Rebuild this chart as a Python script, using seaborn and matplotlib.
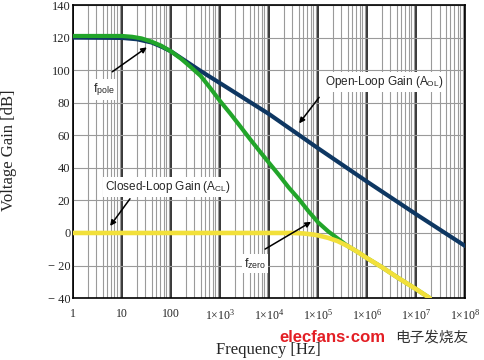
import numpy as np
import pandas as pd
import matplotlib
matplotlib.use('Agg')
import matplotlib.pyplot as plt
import seaborn as sns

# values (frequency in Hz, gain in dB)
ol_freq = [1, 10, 20, 40, 63, 100, 200, 400, 1e3, 1e4, 1e5, 1e6, 1e7, 1e8]
ol_gain = [120, 119.8, 119, 117, 114.5, 111.5, 105.5, 99.5, 92, 73, 52, 31.5, 11.5, -8]

grn_freq = [1, 10, 16, 25, 40, 63, 100, 160, 250, 400, 630, 1e3, 1.6e3, 2.5e3, 4e3,
            6.3e3, 1e4, 1.6e4, 2.5e4, 4e4, 6.3e4, 1e5, 1.6e5, 2.8e5, 4e5, 6.3e5,
            1e6, 2e6, 4e6, 1e7, 1.9e7]
grn_gain = [121, 121, 120.5, 119.5, 117.5, 115, 111.5, 107, 102, 96.5, 89, 81, 73.5, 66, 58,
            50.5, 43, 35.5, 28, 21, 13.5, 6.5, 1, -4.5, -8, -11.5,
            -15.5, -21, -27, -34.5, -40]

cl_freq = [1, 1e4, 3e4, 5e4, 8e4, 1e5, 1.6e5, 2.5e5, 4e5, 6.3e5, 1e6, 2e6, 4e6, 1e7, 1.9e7]
cl_gain = [0, 0, 0, -0.3, -1, -1.5, -3, -5, -8, -11.5, -15.5, -21, -27, -34.5, -40]

x_ticks = [1, 10, 100, 1e3, 1e4, 1e5, 1e6, 1e7, 1e8]
x_labels = ['1', '10', '100', r'$1{\times}10^{3}$', r'$1{\times}10^{4}$', r'$1{\times}10^{5}$',
            r'$1{\times}10^{6}$', r'$1{\times}10^{7}$', r'$1{\times}10^{8}$']
y_ticks = [140, 120, 100, 80, 60, 40, 20, 0, -20, -40]
y_labels = ['140', '120', '100', '80', '60', '40', '20', '0', '\u2212 20', '\u2212 40']

sns.set_style('white')
plt.rcParams['font.family'] = ['Liberation Serif', 'DejaVu Serif']
plt.rcParams['mathtext.fontset'] = 'custom'
plt.rcParams['mathtext.rm'] = 'Liberation Serif'
plt.rcParams['mathtext.it'] = 'Liberation Serif:italic'
plt.rcParams['mathtext.sf'] = 'Liberation Sans'

fig = plt.figure(figsize=(4.84, 3.6), dpi=100)
ax = fig.add_axes([0.151, 0.172, 0.81, 0.814])

navy = '#0e3762'
green = '#22a52a'
yellow = '#f2e03a'

sns.lineplot(x=ol_freq, y=ol_gain, ax=ax, color=navy, lw=3.0, zorder=3)
sns.lineplot(x=grn_freq, y=grn_gain, ax=ax, color=green, lw=3.0, zorder=4)
sns.lineplot(x=cl_freq, y=cl_gain, ax=ax, color=yellow, lw=3.3, zorder=5)

ax.set_xscale('log')
ax.set_xlim(1, 1e8)
ax.set_ylim(-40, 140)

# grid: black decades, grey minors, grey horizontal
ax.set_xticks(x_ticks)
ax.set_xticklabels(x_labels, fontsize=8.5)
ax.set_xticks([m * 10 ** d for d in range(8) for m in range(2, 10)], minor=True)
ax.set_yticks(y_ticks)
ax.set_yticklabels(y_labels, fontsize=9)
ax.tick_params(axis='both', which='both', length=0)
ax.tick_params(axis='x', pad=7)
ax.tick_params(axis='y', pad=2)
ax.xaxis.grid(True, which='major', color='black', lw=1.1, zorder=1)
ax.xaxis.grid(True, which='minor', color='#9a9a9a', lw=0.8, zorder=1)
ax.yaxis.grid(True, which='major', color='#9a9a9a', lw=0.8, zorder=1)
ax.set_axisbelow(True)
for s in ax.spines.values():
    s.set_color('black')
    s.set_linewidth(1.2)
    s.set_visible(True)

ax.set_xlabel('Frequency [Hz]', fontsize=12)
ax.set_ylabel('Voltage Gain [dB]', fontsize=12)
ax.xaxis.set_label_coords(0.497, -0.15)
ax.yaxis.set_label_coords(-0.143, 0.505)

# annotations
box = dict(facecolor='white', edgecolor='none', pad=1.5)
arrow = dict(arrowstyle='-|>', color='black', lw=1.1, mutation_scale=8, shrinkA=0, shrinkB=0)
sans = 'Liberation Sans'

ax.text(4.3, 88, r'f$_{\mathsf{pole}}$', family=sans, fontsize=9, ha='center', va='center',
        bbox=box, zorder=6)
ax.annotate('', xy=(32, 114), xytext=(6.3, 99), arrowprops=arrow, zorder=6)

ax.text(2.2e6, 92.6, r'Open-Loop Gain (A$_{\mathsf{OL}}$)', family=sans, fontsize=8.5,
        ha='center', va='center', bbox=box, zorder=6)
ax.annotate('', xy=(4.1e4, 67.3), xytext=(1.05e5, 83.3), arrowprops=arrow, zorder=6)

ax.text(87, 28.4, r'Closed-Loop Gain (A$_{\mathsf{CL}}$)', family=sans, fontsize=8.5,
        ha='center', va='center', bbox=box, zorder=6)
ax.annotate('', xy=(5.7, 4.3), xytext=(14.5, 21), arrowprops=arrow, zorder=6)

ax.text(5.1e3, -19, r'f$_{\mathsf{zero}}$', family=sans, fontsize=9, ha='center', va='center',
        bbox=box, zorder=6)
ax.annotate('', xy=(7.2e4, 6.8), xytext=(8.3e3, -9.9), arrowprops=arrow, zorder=6)

# watermark
fig.text(332 / 484, 1 - 338 / 360, 'elecfans\u00b7com', family=sans, fontweight='bold',
         fontsize=12, color='#e31e24', ha='center', va='center')
fig.text(432 / 484, 1 - 338 / 360, '电子发烧友', family=['Noto Sans CJK SC', 'DejaVu Sans'],
         fontsize=10.5, color='#333333', ha='center', va='center')

fig.savefig('out.png', dpi=100, facecolor='white')
